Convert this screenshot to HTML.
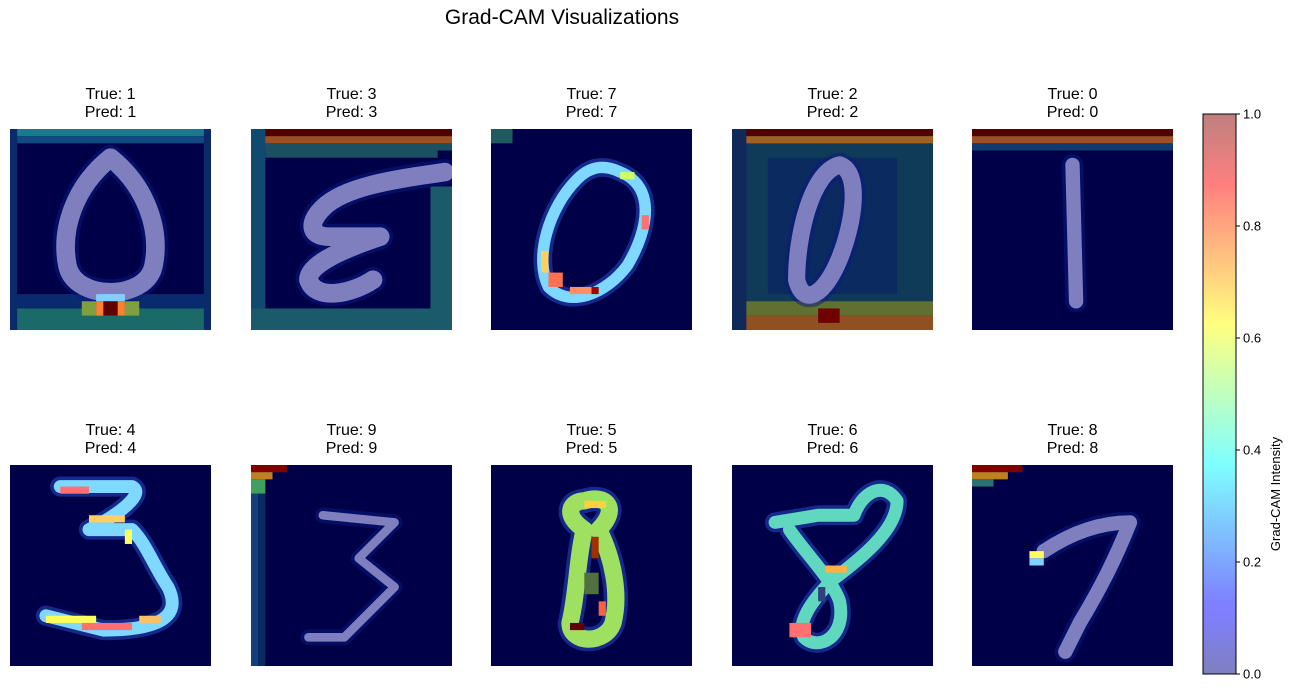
<!DOCTYPE html>
<html><head><meta charset="utf-8">
<style>
body{margin:0;background:#fff;width:1293px;height:692px;overflow:hidden;font-family:"Liberation Sans","DejaVu Sans",sans-serif;position:relative}
.t{position:absolute;text-align:center;font-size:16px;line-height:18px;color:#000;width:201px}
.p{position:absolute;width:201px;height:201px}
</style></head><body>
<div style="position:absolute;left:362px;top:6px;width:400px;text-align:center;font-size:21px">Grad-CAM Visualizations</div>
<div id="root"></div>
<svg style="position:absolute;left:1190px;top:100px" width="103" height="592">
<defs><linearGradient id="jet" x1="0" y1="1" x2="0" y2="0">
<stop offset="0" stop-color="#7f7fbf"/><stop offset="0.11" stop-color="#7f7fff"/><stop offset="0.125" stop-color="#7f7fff"/><stop offset="0.375" stop-color="#7fffff"/><stop offset="0.5" stop-color="#bfffbf"/><stop offset="0.625" stop-color="#ffff7f"/><stop offset="0.875" stop-color="#ff7f7f"/><stop offset="1" stop-color="#bf7f7f"/></linearGradient></defs>
<rect x="13" y="14" width="33" height="560" fill="url(#jet)" stroke="#000" stroke-width="1"/>
<g id="cbt"></g>
<text x="90" y="394" transform="rotate(-90 90 394)" font-size="13" text-anchor="middle">Grad-CAM Intensity</text>
</svg>
<script>
const trueLabels=[1,3,7,2,0,4,9,5,6,8];
const predLabels=[1,3,7,2,0,4,9,5,6,8];
const cbTicks=[0.0,0.2,0.4,0.6,0.8,1.0];
const colX=[10,251,491,732,972], rowY=[129,465];
const BG='#000048', DIG='#7f7fbf';
const panels=[
 {fr:[[0,0,28,1,'#1a7a8a'],[0,1,28,1,'#104a80'],[0,23,28,2,'#0a2a70'],[0,25,28,3,'#1a6a6a'],[0,0,1,28,'#0a2a6a'],[27,0,1,28,'#0a2a6a']],
  d:'M14 4 C19 8 21 14 20 19 C19 24 9 24 8 19 C7 14 9 8 14 4Z',w:2.6,hs:[[12,23,4,1,'#7fd0ff'],[12,24,4,2,'#ff7f30'],[13,24,2,2,'#600000'],[10,24,2,2,'#7fa040'],[16,24,2,2,'#7fa040']]},
 {fr:[[0,0,28,1,'#500000'],[0,1,28,1,'#a05020'],[0,2,28,1,'#1a5060'],[0,0,2,28,'#104a70'],[25,8,3,20,'#1a5a6a'],[0,25,28,3,'#1a5a6a'],[2,3,24,1,'#1a5060']],
  d:'M27 6 C20 7 13 8 10 11 C8 13 8 15 11 15 L18 15 C12 17 8 19 8 21 C9 24 14 23 17 21',w:2.6,hs:[]},
 {fr:[[0,0,3,2,'#205a60']],halo:'#2a50d0',
  d:'M18 6 C23 8 22 14 19 19 C16 23 11 25 8 22 C6 18 8 11 12 7 C14 5 16 5 18 6Z',w:1.6,dc:'#7fd8ff',hs:[[18,6,2,1,'#d0ff60'],[21,12,1,2,'#ff7070'],[7,17,1,3,'#ffd060'],[8,20,2,2,'#ff7050'],[11,22,3,1,'#ff9060'],[14,22,1,1,'#a00000']]},
 {fr:[[0,0,28,28,'#0f3a58'],[5,4,18,19,'#0a2a60'],[0,0,28,1,'#500000'],[0,1,28,1,'#a06020'],[0,24,28,2,'#607030'],[0,26,28,2,'#905020'],[12,25,3,2,'#700000'],[0,0,2,28,'#10285a']],
  d:'M15 5 C18 6 17 13 15 18 C13 23 10 25 9 21 C9 15 11 6 15 5Z',w:2.4,hs:[]},
 {fr:[[0,0,28,1,'#500000'],[0,1,28,1,'#a05020'],[0,2,28,1,'#103a70']],
  d:'M14 5 L14.5 24',w:2,hs:[]},
 {fr:[],halo:'#2a50d0',
  d:'M7 3 L17 3 C19 4 15 7 11 9 L17 9 C19 11 20 14 22 17 C24 21 21 23 13 23 L5 21',w:1.8,dc:'#7fd8ff',hs:[[7,3,4,1,'#ff7070'],[11,7,5,1,'#ffd060'],[16,9,1,2,'#ffff60'],[5,21,7,1,'#ffff60'],[10,22,7,1,'#ff7070'],[18,21,3,1,'#ffc060']]},
 {fr:[[0,0,5,1,'#800000'],[0,1,3,1,'#c08020'],[0,2,2,2,'#40a060'],[0,4,1,24,'#104080'],[1,4,1,24,'#0a2a60']],
  d:'M10 7 L20 8 L15 13 L20 17 L13 24 L8 24',w:1.2,hs:[]},
 {fr:[],halo:'#2a50d0',
  d:'M13 5 C16 4 18 6 15 9 C17 13 18 18 17 22 C16 25 11 25 11 22 C12 18 12 13 13 9 C10 7 11 5 13 5Z',w:2.4,dc:'#a0e060',hs:[[13,5,3,1,'#ffd040'],[14,10,1,3,'#a03000'],[13,15,2,3,'#507040'],[11,22,2,1,'#600000'],[15,19,1,2,'#ff6040']]},
 {fr:[],halo:'#2a50d0',
  d:'M6 8 L12 7 L17 7 C18 4 21 2 23 5 C23 9 18 13 14 16 C11 19 9 22 10 24 C12 26 16 24 15 19 C14 16 10 12 8 9',w:1.8,dc:'#60d8c0',hs:[[13,14,3,1,'#ffb040'],[8,22,3,2,'#ff7070'],[12,17,1,2,'#304080']]},
 {fr:[[0,0,7,1,'#800000'],[0,1,5,1,'#c08020'],[0,2,3,1,'#2a7070']],
  d:'M10 12 C13 10 17 8 22 8 C20 13 18 17 15 22 L13 26',w:2,hs:[[8,12,2,1,'#ffff60'],[8,13,2,1,'#7fd0ff']]}
];
const root=document.getElementById('root');
const NS='http://www.w3.org/2000/svg';
panels.forEach((p,i)=>{
  const x=colX[i%5], y=rowY[Math.floor(i/5)];
  const t=document.createElement('div');
  t.className='t';
  
  
  t.style.left=x+'px';t.style.top=(y-43)+'px';
  t.innerHTML='True: '+trueLabels[i]+'<br>Pred: '+predLabels[i];
  root.appendChild(t);
  const s=document.createElementNS(NS,'svg');
  s.setAttribute('class','p');
  
  
  s.setAttribute('viewBox','0 0 28 28');s.setAttribute('preserveAspectRatio','none');
  s.style.left=x+'px';s.style.top=y+'px';
  let h='<rect width="28" height="28" fill="'+BG+'"/>';
  p.fr.forEach(r=>h+='<rect x="'+r[0]+'" y="'+r[1]+'" width="'+r[2]+'" height="'+r[3]+'" fill="'+r[4]+'"/>');
  h+='<path d="'+p.d+'" fill="none" stroke="'+(p.halo||'#0a1a80')+'" stroke-width="'+(p.w+1)+'" stroke-linejoin="round" stroke-linecap="round" opacity="0.5"/>';
  h+='<path d="'+p.d+'" fill="none" stroke="'+(p.dc||DIG)+'" stroke-width="'+p.w+'" stroke-linejoin="round" stroke-linecap="round"/>';
  p.hs.forEach(r=>h+='<rect x="'+r[0]+'" y="'+r[1]+'" width="'+r[2]+'" height="'+r[3]+'" fill="'+r[4]+'"/>');
  s.innerHTML=h;
  root.appendChild(s);
});
const g=document.getElementById('cbt');
cbTicks.forEach(v=>{
  const yy=574-v*560;
  const l=document.createElementNS(NS,'line');
  l.setAttribute('x1',46);l.setAttribute('x2',50);l.setAttribute('y1',yy);l.setAttribute('y2',yy);l.setAttribute('stroke','#000');
  
  
  g.appendChild(l);
  const tx=document.createElementNS(NS,'text');
  tx.setAttribute('x',53);tx.setAttribute('y',yy+4.5);tx.setAttribute('font-size','13');
  tx.textContent=v.toFixed(1);
  
  
  g.appendChild(tx);
});
</script>
</body></html>
